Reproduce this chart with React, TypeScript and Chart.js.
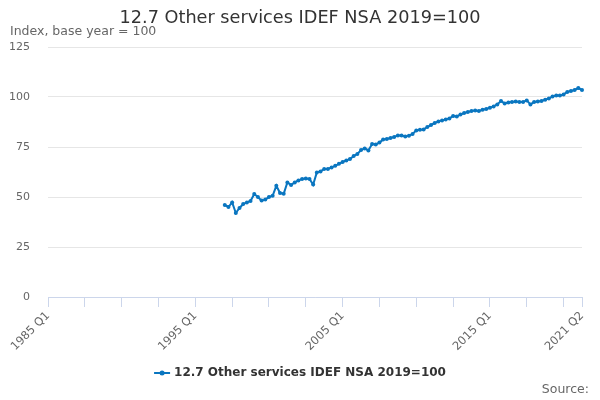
import { useEffect, useRef } from "react"
import { Chart, registerables } from "chart.js"
import type { Plugin } from "chart.js"

Chart.register(...registerables)

const chartTitle = "12.7 Other services IDEF NSA 2019=100"
const unitsLabel = "Index, base year = 100"
const seriesName = "12.7 Other services IDEF NSA 2019=100"
const sourceText = "Source:"

// quarterly axis, 1985 Q1 .. 2021 Q2
const firstYear = 1985
const lastYear = 2021
const lastQuarter = 2
const seriesStart = "1997 Q1"

// values, 1997 Q1 .. 2021 Q2
const values = [
  46, 45, 47.3, 42, 44.5, 46.5, 47.3, 48, 51.5, 50,
  48.2, 48.7, 50, 50.6, 55.6, 52, 51.6, 57.3, 56, 57.3,
  58.3, 59, 59.2, 59, 56.2, 62.3, 62.8, 64, 64, 64.8,
  65.6, 66.6, 67.5, 68.3, 69, 70.5, 71.5, 73.5, 74.3, 73.3,
  76.5, 76.3, 77.2, 78.8, 79, 79.5, 80, 80.8, 80.8, 80.3,
  80.6, 81.5, 83.3, 83.6, 83.8, 85, 86, 87, 87.8, 88.3,
  88.8, 89.3, 90.5, 90.3, 91.2, 92, 92.5, 93, 93.2, 93,
  93.6, 94, 94.6, 95.3, 96.3, 98, 96.8, 97.2, 97.5, 97.8,
  97.5, 97.5, 98.3, 96.3, 97.5, 97.8, 98, 98.6, 99.3, 100.2,
  100.8, 100.7, 101.3, 102.5, 103, 103.5, 104.5, 103.5,
]

const labelledQuarters = ["1985 Q1", "1995 Q1", "2005 Q1", "2015 Q1", "2021 Q2"]
const tickEvery = 10 // quarters between tick marks
const yMin = 0
const yMax = 125
const yStep = 25

const lineColor = "#0a76c0"

const quarters: string[] = []
for (let y = firstYear; y <= lastYear; y++) {
  for (let q = 1; q <= 4; q++) {
    if (y === lastYear && q > lastQuarter) break
    quarters.push(`${y} Q${q}`)
  }
}

const startIndex = quarters.indexOf(seriesStart)
const seriesData = quarters.map((_, i) =>
  i < startIndex ? null : values[i - startIndex] ?? null
)

const textPlugin: Plugin<"line"> = {
  id: "texts",
  afterDraw(chart) {
    const { ctx, width, height } = chart
    ctx.save()
    ctx.textBaseline = "middle"

    ctx.fillStyle = "#333333"
    ctx.font = "17.7px 'DejaVu Sans', sans-serif"
    ctx.textAlign = "center"
    ctx.fillText(chartTitle, width / 2, 18)

    ctx.fillStyle = "#666666"
    ctx.font = "12.5px 'DejaVu Sans', sans-serif"
    ctx.textAlign = "left"
    ctx.fillText(unitsLabel, 10, 32)

    ctx.textAlign = "right"
    ctx.fillText(sourceText, width - 11, height - 10)

    // legend
    ctx.font = "bold 12px 'DejaVu Sans', sans-serif"
    const textW = ctx.measureText(seriesName).width
    const symW = 16
    const total = symW + 4 + textW
    const x0 = (width - total) / 2
    const ly = 373
    ctx.strokeStyle = lineColor
    ctx.lineWidth = 2
    ctx.beginPath()
    ctx.moveTo(x0, ly)
    ctx.lineTo(x0 + symW, ly)
    ctx.stroke()
    ctx.fillStyle = lineColor
    ctx.beginPath()
    ctx.arc(x0 + symW / 2, ly, 2.5, 0, Math.PI * 2)
    ctx.fill()
    ctx.fillStyle = "#333333"
    ctx.textAlign = "left"
    ctx.fillText(seriesName, x0 + symW + 4, ly)
    ctx.restore()
  },
}

export default function App() {
  const chartRef = useRef<HTMLCanvasElement>(null)
  const chartInstance = useRef<Chart | null>(null)

  useEffect(() => {
    document.body.style.margin = "0"
    if (!chartRef.current) return
    if (chartInstance.current) chartInstance.current.destroy()

    Chart.defaults.font.family = "'DejaVu Sans', sans-serif"

    chartInstance.current = new Chart(chartRef.current, {
      type: "line",
      data: {
        labels: quarters,
        datasets: [
          {
            label: seriesName,
            data: seriesData,
            borderColor: lineColor,
            backgroundColor: lineColor,
            borderWidth: 2,
            pointRadius: 2,
            pointHoverRadius: 3,
            pointBorderWidth: 0,
            tension: 0,
            spanGaps: false,
          },
        ],
      },
      options: {
        animation: false,
        responsive: true,
        maintainAspectRatio: false,
        layout: {
          padding: { top: 47, right: 18, bottom: 43, left: 0 },
        },
        plugins: {
          legend: { display: false },
          title: { display: false },
          tooltip: { enabled: false },
        },
        scales: {
          x: {
            type: "category",
            offset: false,
            afterFit: (scale) => {
              scale.height = 60
            },
            border: { display: true, color: "#ccd6eb", width: 1 },
            grid: {
              drawOnChartArea: false,
              tickLength: 10,
              color: (c) =>
                c.index % tickEvery === 0 || c.index === quarters.length - 1
                  ? "#ccd6eb"
                  : "rgba(0,0,0,0)",
            },
            ticks: {
              autoSkip: false,
              maxRotation: 45,
              minRotation: 45,
              padding: 2,
              color: "#666666",
              font: { size: 11.5 },
              callback: (_v, i) =>
                labelledQuarters.includes(quarters[i]) ? quarters[i] : "",
            },
          },
          y: {
            min: yMin,
            max: yMax,
            afterFit: (scale) => {
              scale.width = 48
            },
            border: { display: false },
            grid: { color: "#e6e6e6", drawTicks: false },
            ticks: {
              stepSize: yStep,
              padding: 18,
              color: "#666666",
              font: { size: 11 },
            },
          },
        },
      },
      plugins: [textPlugin],
    })

    return () => {
      if (chartInstance.current) {
        chartInstance.current.destroy()
        chartInstance.current = null
      }
    }
  }, [])

  return (
    <div style={{ width: 600, height: 400, position: "relative" }}>
      <canvas ref={chartRef} />
    </div>
  )
}
